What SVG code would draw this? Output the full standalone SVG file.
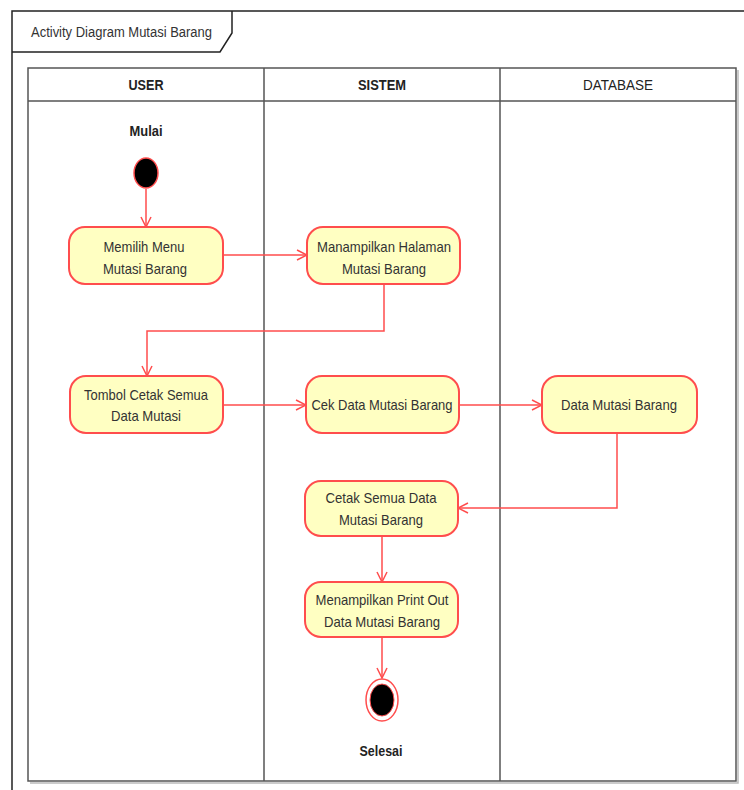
<svg xmlns="http://www.w3.org/2000/svg" width="744" height="790" viewBox="0 0 744 790">
<defs>
<style>
.frame{fill:none;stroke:#222;stroke-width:1.5}
.lane{fill:none;stroke:#555;stroke-width:1.5}
.shadow{fill:none;stroke:#bbb;stroke-width:1.5}
.act{fill:#FFFFC2;stroke:#FF4D4D;stroke-width:2}
.t{font-family:"Liberation Sans",Arial,sans-serif;font-size:15px;fill:#333;text-anchor:middle}
.h{font-family:"Liberation Sans",Arial,sans-serif;font-size:15px;fill:#222;text-anchor:middle}
.b{font-weight:bold}
.edge{fill:none;stroke:#FF4D4D;stroke-width:1.5}
</style>
<marker id="arr" viewBox="0 0 12 12" refX="11" refY="6" markerWidth="12" markerHeight="12" markerUnits="userSpaceOnUse" orient="auto">
<path d="M1,1 L11,6 L1,11" fill="none" stroke="#FF4D4D" stroke-width="1.5"/>
</marker>
</defs>
<rect width="744" height="790" fill="#fff"/>
<g id="frame">
<path class="frame" d="M744,11 H12 V790"/>
<path class="frame" d="M12,52 H220 L232,33 V11"/>
<text x="31" y="37" font-family="'Liberation Sans',Arial,sans-serif" font-size="14" fill="#333" textLength="181" lengthAdjust="spacingAndGlyphs">Activity Diagram Mutasi Barang</text>
</g>
<g id="lanes">
<path class="shadow" d="M30,783 H738 V70"/>
<rect class="lane" x="28" y="68" width="708" height="713"/>
<line class="lane" x1="28" y1="101" x2="736" y2="101"/>
<line class="lane" x1="264" y1="68" x2="264" y2="781"/>
<line class="lane" x1="500" y1="68" x2="500" y2="781"/>
<text class="h b" x="146" y="90" textLength="35" lengthAdjust="spacingAndGlyphs">USER</text>
<text class="h b" x="382" y="90" textLength="48" lengthAdjust="spacingAndGlyphs">SISTEM</text>
<text class="h" x="618" y="90" textLength="70" lengthAdjust="spacingAndGlyphs">DATABASE</text>
</g>
<g id="connectors">
<line class="edge" x1="146" y1="189" x2="146" y2="227" marker-end="url(#arr)"/>
<line class="edge" x1="223" y1="255" x2="307" y2="255" marker-end="url(#arr)"/>
<path class="edge" d="M384,284 V331 H147 V376" marker-end="url(#arr)"/>
<line class="edge" x1="223" y1="405" x2="306" y2="405" marker-end="url(#arr)"/>
<line class="edge" x1="459" y1="405" x2="542" y2="405" marker-end="url(#arr)"/>
<path class="edge" d="M617,433 V508 H458" marker-end="url(#arr)"/>
<line class="edge" x1="382" y1="536" x2="382" y2="582" marker-end="url(#arr)"/>
<line class="edge" x1="382" y1="637" x2="382" y2="678" marker-end="url(#arr)"/>
</g>
<g id="start">
<text class="h b" x="146" y="136" textLength="33" lengthAdjust="spacingAndGlyphs">Mulai</text>
<ellipse cx="146" cy="173" rx="12" ry="15" fill="#000" stroke="#FF4D4D" stroke-width="1.5"/>
</g>
<g id="memilih">
<rect class="act" x="69" y="227" width="154" height="57" rx="16"/>
<text class="t" x="144" y="252" textLength="81" lengthAdjust="spacingAndGlyphs">Memilih Menu</text>
<text class="t" x="145" y="274" textLength="84" lengthAdjust="spacingAndGlyphs">Mutasi Barang</text>
</g>
<g id="manampilkan">
<rect class="act" x="307" y="227" width="153" height="57" rx="16"/>
<text class="t" x="384" y="252" textLength="134" lengthAdjust="spacingAndGlyphs">Manampilkan Halaman</text>
<text class="t" x="384" y="274" textLength="84" lengthAdjust="spacingAndGlyphs">Mutasi Barang</text>
</g>
<g id="tombol">
<rect class="act" x="70" y="376" width="153" height="57" rx="16"/>
<text class="t" x="146" y="400" textLength="124" lengthAdjust="spacingAndGlyphs">Tombol Cetak Semua</text>
<text class="t" x="146" y="421" textLength="70" lengthAdjust="spacingAndGlyphs">Data Mutasi</text>
</g>
<g id="cek">
<rect class="act" x="306" y="376" width="153" height="57" rx="16"/>
<text class="t" x="382" y="410" textLength="141" lengthAdjust="spacingAndGlyphs">Cek Data Mutasi Barang</text>
</g>
<g id="datamutasi">
<rect class="act" x="542" y="376" width="155" height="57" rx="16"/>
<text class="t" x="619" y="410" textLength="116" lengthAdjust="spacingAndGlyphs">Data Mutasi Barang</text>
</g>
<g id="cetak">
<rect class="act" x="305" y="481" width="153" height="55" rx="16"/>
<text class="t" x="381" y="503" textLength="111" lengthAdjust="spacingAndGlyphs">Cetak Semua Data</text>
<text class="t" x="381" y="525" textLength="84" lengthAdjust="spacingAndGlyphs">Mutasi Barang</text>
</g>
<g id="printout">
<rect class="act" x="305" y="582" width="153" height="55" rx="16"/>
<text class="t" x="382" y="605" textLength="133" lengthAdjust="spacingAndGlyphs">Menampilkan Print Out</text>
<text class="t" x="382" y="627" textLength="116" lengthAdjust="spacingAndGlyphs">Data Mutasi Barang</text>
</g>
<g id="end">
<ellipse cx="382" cy="700" rx="16" ry="21" fill="#fff" stroke="#FF4D4D" stroke-width="1.5"/>
<ellipse cx="382" cy="700" rx="12" ry="16" fill="#000" stroke="#FF4D4D" stroke-width="1"/>
<text class="h b" x="381" y="756" textLength="43" lengthAdjust="spacingAndGlyphs">Selesai</text>
</g>
</svg>
